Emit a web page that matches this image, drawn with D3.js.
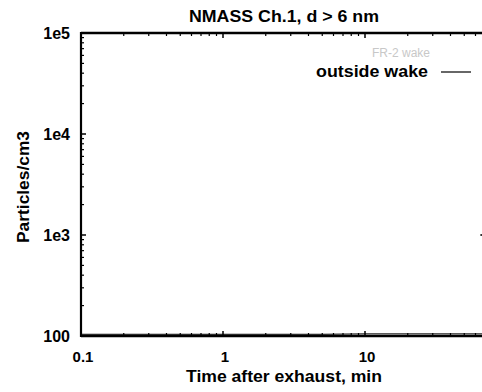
<!DOCTYPE html>
<html>
<head>
<meta charset="utf-8">
<script src="https://cdn.jsdelivr.net/npm/d3@7"></script>
<style>
  body { margin: 0; background: #fff; }
  text { font-family: "Liberation Sans", Arial, sans-serif; font-weight: bold; fill: #000; }
</style>
</head>
<body>
<svg id="chart" width="482" height="392"></svg>
<script>
// data
var xTicks = [0.1, 1, 10];
var xTickLabels = ["0.1", "1", "10"];
var yTicks = [100, 1000, 10000, 100000];
var yTickLabels = ["100", "1e3", "1e4", "1e5"];

var outsideTime = [0.1, 0.2, 0.5, 1, 2, 5, 10, 20, 40, 70];
var outsideConc = [104, 104, 104, 104, 104, 104, 105, 105, 105, 105];

var wakeTime = [66];
var wakeConc = [1000];

var svg = d3.select("#chart"),
    width = +svg.attr("width"),
    height = +svg.attr("height");

var x = d3.scaleLog().domain([0.1, 100]).range([81, 507]);
var y = d3.scaleLog().domain([100, 100000]).range([336, 33]);

// minor ticks
var minorY = [], minorX = [];
[100, 1000, 10000].forEach(function(b) {
  for (var i = 2; i < 10; i++) minorY.push(b * i);
});
[0.1, 1, 10].forEach(function(b) {
  for (var i = 2; i < 10; i++) minorX.push(b * i);
});

var frame = svg.append("g").attr("stroke", "#000");

// left axis ticks (inward)
frame.selectAll(".ymaj").data(yTicks).enter().append("line")
  .attr("x1", x(0.1)).attr("x2", x(0.1) + 5)
  .attr("y1", d => y(d)).attr("y2", d => y(d))
  .attr("stroke-width", 1.5);
frame.selectAll(".ymin").data(minorY).enter().append("line")
  .attr("x1", x(0.1)).attr("x2", x(0.1) + 3)
  .attr("y1", d => y(d)).attr("y2", d => y(d))
  .attr("stroke-width", 1.2);

// bottom and top ticks
[y(100), y(100000)].forEach(function(yy, k) {
  var dir = k === 0 ? -1 : 1;
  frame.selectAll(null).data(xTicks.concat([100])).enter().append("line")
    .attr("x1", d => x(d)).attr("x2", d => x(d))
    .attr("y1", yy).attr("y2", yy + dir * 5)
    .attr("stroke-width", 1.5);
  frame.selectAll(null).data(minorX).enter().append("line")
    .attr("x1", d => x(d)).attr("x2", d => x(d))
    .attr("y1", yy).attr("y2", yy + dir * 3)
    .attr("stroke-width", 1.2);
});

// frame lines
frame.append("line").attr("x1", x(0.1)).attr("x2", x(0.1))
  .attr("y1", y(100000) - 1).attr("y2", y(100) + 1).attr("stroke-width", 2.2);
frame.append("line").attr("x1", x(0.1)).attr("x2", width)
  .attr("y1", y(100000)).attr("y2", y(100000)).attr("stroke-width", 2.4);
frame.append("line").attr("x1", x(0.1)).attr("x2", width)
  .attr("y1", y(100)).attr("y2", y(100)).attr("stroke-width", 2.4);

// series
var line = d3.line().x(d => x(d[0])).y(d => y(d[1]));
svg.append("path")
  .datum(d3.zip(outsideTime, outsideConc))
  .attr("d", line)
  .attr("fill", "none")
  .attr("stroke", "#000")
  .attr("stroke-width", 1);

svg.selectAll(".wake").data(d3.zip(wakeTime, wakeConc)).enter().append("rect")
  .attr("x", d => x(d[0]) - 1).attr("y", d => y(d[1]) - 1)
  .attr("width", 2).attr("height", 2).attr("fill", "#333");

// tick labels
svg.selectAll(".ylab").data(yTicks).enter().append("text")
  .attr("x", 70).attr("y", d => y(d) + 6)
  .attr("text-anchor", "end").style("font-size", "16px")
  .text((d, i) => yTickLabels[i]);

svg.selectAll(".xlab").data(xTicks).enter().append("text")
  .attr("x", d => x(d) + 2).attr("y", 362)
  .attr("text-anchor", "middle").style("font-size", "15px")
  .text((d, i) => xTickLabels[i]);

// titles
svg.append("text").attr("x", 284).attr("y", 22)
  .attr("text-anchor", "middle").style("font-size", "17px")
  .attr("textLength", 190).attr("lengthAdjust", "spacingAndGlyphs")
  .text("NMASS Ch.1, d > 6 nm");
svg.append("text").attr("x", 284).attr("y", 382)
  .attr("text-anchor", "middle").style("font-size", "16px")
  .attr("textLength", 196).attr("lengthAdjust", "spacingAndGlyphs")
  .text("Time after exhaust, min");
svg.append("text")
  .attr("transform", "translate(29,187) rotate(-90)")
  .attr("text-anchor", "middle").style("font-size", "16px")
  .attr("textLength", 112).attr("lengthAdjust", "spacingAndGlyphs")
  .text("Particles/cm3");

// legend
svg.append("text").attr("x", 430).attr("y", 57)
  .attr("text-anchor", "end").style("font-size", "12px")
  .style("font-weight", "normal").style("fill", "#c8c8c8")
  .text("FR-2 wake");
svg.append("text").attr("x", 428).attr("y", 77)
  .attr("text-anchor", "end").style("font-size", "16px")
  .attr("textLength", 112).attr("lengthAdjust", "spacingAndGlyphs")
  .text("outside wake");
svg.append("line").attr("x1", 441).attr("x2", 471)
  .attr("y1", 72).attr("y2", 72)
  .attr("stroke", "#000").attr("stroke-width", 1.2);
</script>
</body>
</html>
